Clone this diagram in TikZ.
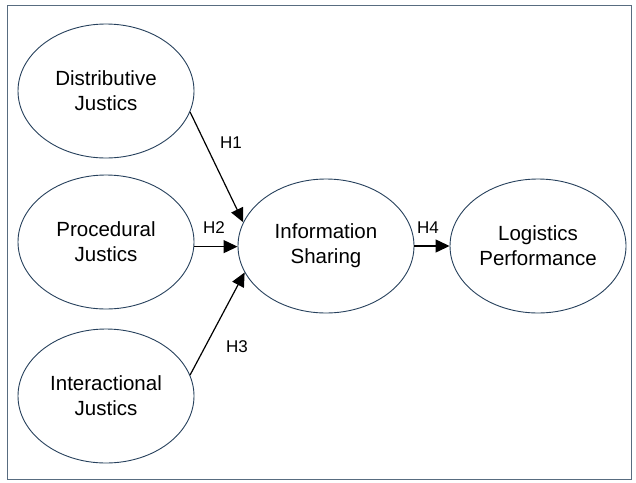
\documentclass[tikz,border=0pt]{standalone}
\usepackage{fontspec}
\setmainfont{Liberation Sans}
\usetikzlibrary{arrows.meta,shapes.geometric}
\definecolor{outline}{RGB}{38,64,92}
\definecolor{frame}{RGB}{88,108,128}
\tikzset{
  construct/.style={ellipse, draw=outline, line width=0.9pt, inner sep=0pt,
    minimum width=176pt, minimum height=134pt, align=center,
    font=\fontsize{20.5}{25}\selectfont},
  path/.style={draw=black, line width=1.2pt,
    -{Triangle[length=14pt,width=13pt]}},
  hyp/.style={font=\fontsize{17}{20}\selectfont, inner sep=0pt}
}
\begin{document}
\begin{tikzpicture}[x=1pt, y=-1pt]
  \useasboundingbox (0,0) rectangle (636,482);
  \draw[frame, line width=1pt] (7,5) rectangle (631,479);

  \node[construct] (dist) at (106,91)  {Distributive\\Justics};
  \node[construct] (proc) at (106,242) {Procedural\\Justics};
  \node[construct] (inter) at (106,396) {Interactional\\Justics};
  \node[construct] (info) at (326,246) {Information\\Sharing};
  \node[construct] (logi) at (538,246) {Logistics\\Performance};

  \draw[path] (dist.-14) -- (info.164);
  \draw[path] (proc.-3) -- (proc.-3 -| info.west);
  \draw[path] (inter.14) -- (info.-162);
  \draw[path] (info.east) -- (logi.west);

  \node[hyp] (h1) at (231,143) {H1};
  \node[hyp] (h2) at (214,228) {H2};
  \node[hyp] (h3) at (237,347) {H3};
  \node[hyp] (h4) at (428,228) {H4};
\end{tikzpicture}
\end{document}
